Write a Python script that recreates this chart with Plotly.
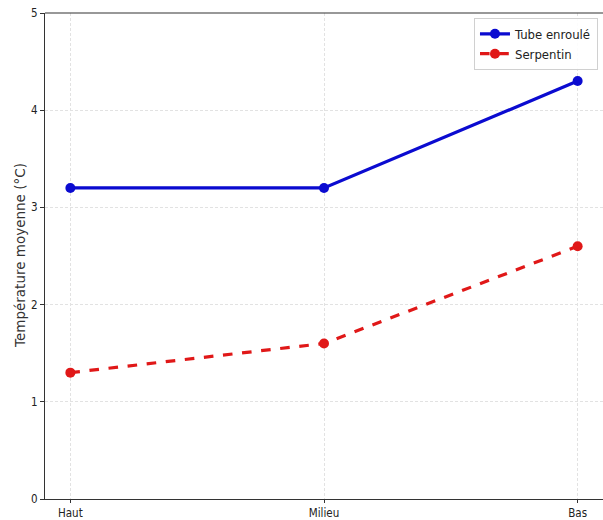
import plotly.graph_objects as go

positions = ["Haut", "Milieu", "Bas"]
tube_enroule = [3.2, 3.2, 4.3]
serpentin = [1.3, 1.6, 2.6]
y_ticks = [0, 1, 2, 3, 4, 5]

x_idx = list(range(len(positions)))

fig = go.Figure()
fig.add_trace(go.Scatter(
    x=x_idx, y=tube_enroule, name="Tube enroulé", mode="lines+markers",
    line=dict(color="#0b0bd0", width=3.2),
    marker=dict(color="#0b0bd0", size=10),
))
fig.add_trace(go.Scatter(
    x=x_idx, y=serpentin, name="Serpentin", mode="lines+markers",
    line=dict(color="#e01818", width=3.2, dash="dash"),
    marker=dict(color="#e01818", size=10),
))

axis_font = dict(family="DejaVu Sans Condensed, Liberation Sans Narrow, sans-serif", size=11.5, color="#222")

# y-axis title placed by hand so it sits close to the tick labels
fig.add_annotation(
    text="Température moyenne (°C)", textangle=-90,
    xref="paper", yref="paper", x=(20 - 45) / 558, y=0.5,
    xanchor="center", yanchor="middle", showarrow=False,
    font=dict(family="DejaVu Sans, sans-serif", size=13.5, color="#333"),
)

# top spine only (no right spine)
fig.add_shape(type="line", xref="paper", yref="paper", x0=0, x1=1, y0=1, y1=1,
              line=dict(color="#333", width=1.2))

fig.update_layout(
    width=603, height=520,
    margin=dict(l=45, r=0, t=13, b=21),
    paper_bgcolor="white", plot_bgcolor="white",
    showlegend=True,
    legend=dict(
        x=0.991, y=0.99, xanchor="right", yanchor="top",
        bgcolor="rgba(255,255,255,0.9)", bordercolor="#d0d0d0", borderwidth=1,
        font=dict(family="DejaVu Sans Condensed, Liberation Sans Narrow, sans-serif", size=13, color="#222"),
        itemwidth=30, tracegroupgap=2,
    ),
    xaxis=dict(
        range=[-0.1, 2.1], tickmode="array", tickvals=x_idx, ticktext=positions,
        showline=True, linecolor="#333", linewidth=1.2, mirror=False,
        ticks="outside", ticklen=3, tickcolor="#333",
        showgrid=True, gridcolor="#e2e2e2", griddash="3px,2px", gridwidth=0.8,
        zeroline=False, tickfont=axis_font, automargin=False,
    ),
    yaxis=dict(
        range=[0, 5], tickmode="array", tickvals=y_ticks,
        showline=True, linecolor="#333", linewidth=1.2, mirror=False,
        ticks="outside", ticklen=4, tickcolor="#333",
        showgrid=True, gridcolor="#e2e2e2", griddash="3px,2px", gridwidth=0.8,
        zeroline=False, tickfont=axis_font, automargin=False,
    ),
)

fig.write_html("out.html")
